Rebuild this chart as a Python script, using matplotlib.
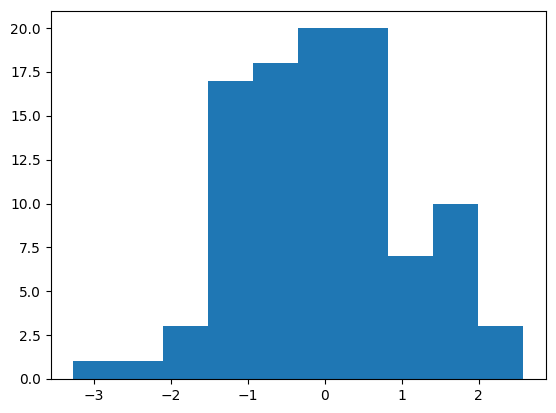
import numpy as np
import matplotlib.pyplot as plt

# bin edges and counts
edges = [-3.27, -2.685, -2.10, -1.515, -0.93, -0.345, 0.24, 0.825, 1.41, 1.995, 2.58]
counts = [1, 1, 3, 17, 18, 20, 20, 7, 10, 3]

fig = plt.figure(figsize=(5.56, 4.13), dpi=100)
fig.subplots_adjust(left=50.5/556, right=546/556, top=1 - 10.5/413, bottom=1 - 379/413)
plt.hist(edges[:-1], bins=edges, weights=counts)
plt.savefig('out.png')
